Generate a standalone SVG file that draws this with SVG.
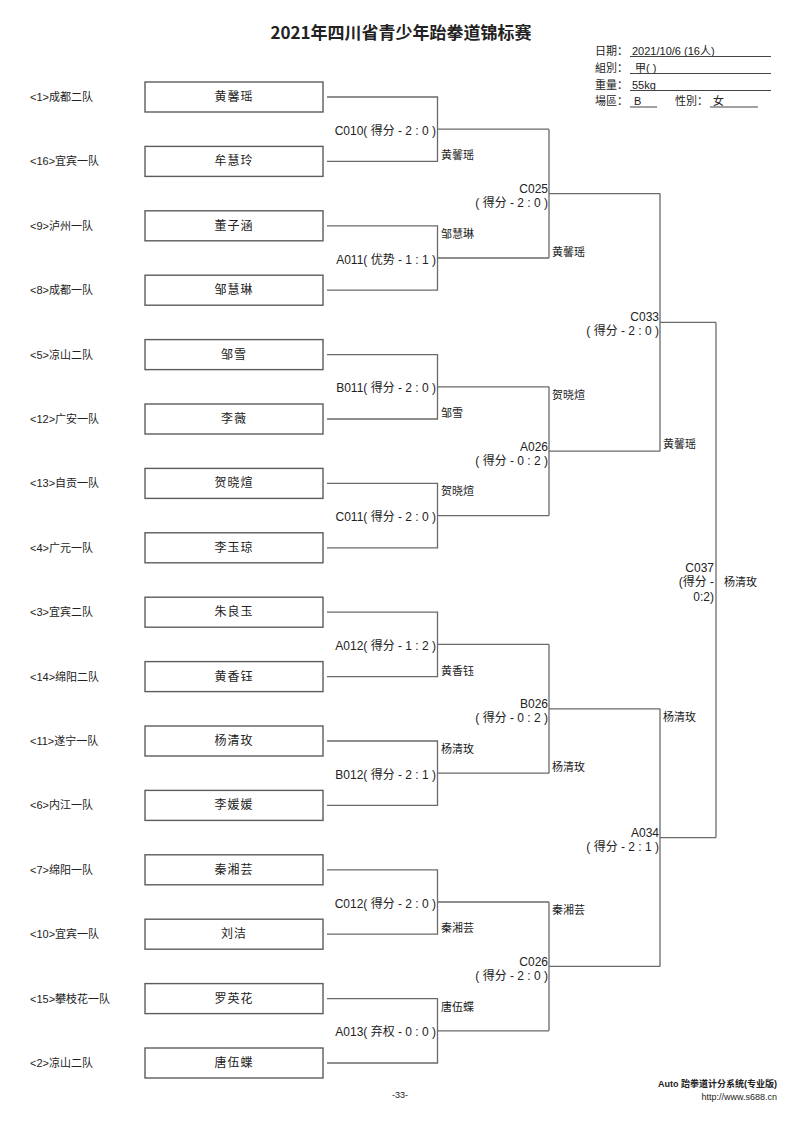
<svg xmlns="http://www.w3.org/2000/svg" width="800" height="1130" viewBox="0 0 800 1130">
<style>
.bg{fill:#fff}
.box{fill:#fff;stroke:#5c5c5c;stroke-width:1.4}
.ln{fill:none;stroke:#6a6a6a;stroke-width:1.3}
text{font-family:"Liberation Sans","Noto Sans CJK SC",sans-serif;fill:#222}
.title{font-size:17px;font-weight:bold;text-anchor:middle;font-family:"Noto Sans CJK SC","Liberation Sans",sans-serif}
.hd{font-size:11px}
.team{font-size:11px}
.name{font-size:12px;text-anchor:middle;letter-spacing:1px}
.code{font-size:12px;text-anchor:end}
.win{font-size:11px}
.ft{font-size:9px;text-anchor:end}
.ul{stroke:#444;stroke-width:1}
</style>
<rect class="bg" x="0" y="0" width="800" height="1130"/>

<g id="header">
<text class="title" x="401" y="39">2021年四川省青少年跆拳道锦标赛</text>
<text class="hd" x="595" y="55">日期：</text>
<text class="hd" x="632" y="55">2021/10/6 (16人)</text>
<line class="ul" x1="630" y1="56.5" x2="771" y2="56.5"/>
<text class="hd" x="595" y="72">組別：</text>
<text class="hd" x="635" y="72">甲( )</text>
<line class="ul" x1="630" y1="73.5" x2="771" y2="73.5"/>
<text class="hd" x="595" y="89">重量：</text>
<text class="hd" x="632" y="89">55kg</text>
<line class="ul" x1="630" y1="90.5" x2="771" y2="90.5"/>
<text class="hd" x="595" y="105">場區：</text>
<text class="hd" x="634" y="105">B</text>
<line class="ul" x1="630" y1="107" x2="657" y2="107"/>
<text class="hd" x="675" y="105">性別：</text>
<text class="hd" x="713" y="105">女</text>
<line class="ul" x1="710" y1="107" x2="758" y2="107"/>
</g>

<g id="connectors">
<path class="ln" d="M327 97H437.5V161.4H327M437.5 129.2H549"/>
<path class="ln" d="M327 225.8H437.5V290.2H327M437.5 258H549"/>
<path class="ln" d="M327 354.6H437.5V419H327M437.5 386.8H549"/>
<path class="ln" d="M327 483.4H437.5V547.8H327M437.5 515.6H549"/>
<path class="ln" d="M327 612.2H437.5V676.6H327M437.5 644.4H549"/>
<path class="ln" d="M327 741H437.5V805.4H327M437.5 773.2H549"/>
<path class="ln" d="M327 869.8H437.5V934.2H327M437.5 902H549"/>
<path class="ln" d="M327 998.6H437.5V1063H327M437.5 1030.8H549"/>
<path class="ln" d="M549 129.2V258M549 193.6H660"/>
<path class="ln" d="M549 386.8V515.6M549 451.2H660"/>
<path class="ln" d="M549 644.4V773.2M549 708.8H660"/>
<path class="ln" d="M549 902V1030.8M549 966.4H660"/>
<path class="ln" d="M660 193.6V451.2M660 322.4H716"/>
<path class="ln" d="M660 708.8V966.4M660 837.6H716"/>
<path class="ln" d="M716 322.4V837.6"/>
</g>

<g id="p1"><text class="team" x="30" y="101">&lt;1&gt;成都二队</text><rect class="box" x="145" y="82" width="178" height="30"/><text class="name" x="234" y="101">黄馨瑶</text></g>
<g id="p16"><text class="team" x="30" y="165.4">&lt;16&gt;宜宾一队</text><rect class="box" x="145" y="146.4" width="178" height="30"/><text class="name" x="234" y="165.4">牟慧玲</text></g>
<g id="p9"><text class="team" x="30" y="229.8">&lt;9&gt;泸州一队</text><rect class="box" x="145" y="210.8" width="178" height="30"/><text class="name" x="234" y="229.8">董子涵</text></g>
<g id="p8"><text class="team" x="30" y="294.2">&lt;8&gt;成都一队</text><rect class="box" x="145" y="275.2" width="178" height="30"/><text class="name" x="234" y="294.2">邹慧琳</text></g>
<g id="p5"><text class="team" x="30" y="358.6">&lt;5&gt;凉山二队</text><rect class="box" x="145" y="339.6" width="178" height="30"/><text class="name" x="234" y="358.6">邹雪</text></g>
<g id="p12"><text class="team" x="30" y="423">&lt;12&gt;广安一队</text><rect class="box" x="145" y="404" width="178" height="30"/><text class="name" x="234" y="423">李薇</text></g>
<g id="p13"><text class="team" x="30" y="487.4">&lt;13&gt;自贡一队</text><rect class="box" x="145" y="468.4" width="178" height="30"/><text class="name" x="234" y="487.4">贺晓煊</text></g>
<g id="p4"><text class="team" x="30" y="551.8">&lt;4&gt;广元一队</text><rect class="box" x="145" y="532.8" width="178" height="30"/><text class="name" x="234" y="551.8">李玉琼</text></g>
<g id="p3"><text class="team" x="30" y="616.2">&lt;3&gt;宜宾二队</text><rect class="box" x="145" y="597.2" width="178" height="30"/><text class="name" x="234" y="616.2">朱良玉</text></g>
<g id="p14"><text class="team" x="30" y="680.6">&lt;14&gt;绵阳二队</text><rect class="box" x="145" y="661.6" width="178" height="30"/><text class="name" x="234" y="680.6">黄香钰</text></g>
<g id="p11"><text class="team" x="30" y="745">&lt;11&gt;遂宁一队</text><rect class="box" x="145" y="726" width="178" height="30"/><text class="name" x="234" y="745">杨清玫</text></g>
<g id="p6"><text class="team" x="30" y="809.4">&lt;6&gt;内江一队</text><rect class="box" x="145" y="790.4" width="178" height="30"/><text class="name" x="234" y="809.4">李媛媛</text></g>
<g id="p7"><text class="team" x="30" y="873.8">&lt;7&gt;绵阳一队</text><rect class="box" x="145" y="854.8" width="178" height="30"/><text class="name" x="234" y="873.8">秦湘芸</text></g>
<g id="p10"><text class="team" x="30" y="938.2">&lt;10&gt;宜宾一队</text><rect class="box" x="145" y="919.2" width="178" height="30"/><text class="name" x="234" y="938.2">刘洁</text></g>
<g id="p15"><text class="team" x="30" y="1002.6">&lt;15&gt;攀枝花一队</text><rect class="box" x="145" y="983.6" width="178" height="30"/><text class="name" x="234" y="1002.6">罗英花</text></g>
<g id="p2"><text class="team" x="30" y="1067">&lt;2&gt;凉山二队</text><rect class="box" x="145" y="1048" width="178" height="30"/><text class="name" x="234" y="1067">唐伍蝶</text></g>

<g id="m-C010"><text class="code" x="436" y="134.7">C010( 得分 - 2 : 0 )</text><text class="win" x="441" y="159.4">黄馨瑶</text></g>
<g id="m-A011"><text class="code" x="436" y="263.5">A011( 优势 - 1 : 1 )</text><text class="win" x="441" y="237.8">邹慧琳</text></g>
<g id="m-B011"><text class="code" x="436" y="392.3">B011( 得分 - 2 : 0 )</text><text class="win" x="441" y="417">邹雪</text></g>
<g id="m-C011"><text class="code" x="436" y="521.1">C011( 得分 - 2 : 0 )</text><text class="win" x="441" y="495.4">贺晓煊</text></g>
<g id="m-A012"><text class="code" x="436" y="649.9">A012( 得分 - 1 : 2 )</text><text class="win" x="441" y="674.6">黄香钰</text></g>
<g id="m-B012"><text class="code" x="436" y="778.7">B012( 得分 - 2 : 1 )</text><text class="win" x="441" y="753">杨清玫</text></g>
<g id="m-C012"><text class="code" x="436" y="907.5">C012( 得分 - 2 : 0 )</text><text class="win" x="441" y="932.2">秦湘芸</text></g>
<g id="m-A013"><text class="code" x="436" y="1036.3">A013( 弃权 - 0 : 0 )</text><text class="win" x="441" y="1010.6">唐伍蝶</text></g>

<g id="m-C025"><text class="code" x="548" y="193.1">C025</text><text class="code" x="548" y="207.1">( 得分 - 2 : 0 )</text><text class="win" x="552" y="256">黄馨瑶</text></g>
<g id="m-A026"><text class="code" x="548" y="450.7">A026</text><text class="code" x="548" y="464.7">( 得分 - 0 : 2 )</text><text class="win" x="552" y="398.8">贺晓煊</text></g>
<g id="m-B026"><text class="code" x="548" y="708.3">B026</text><text class="code" x="548" y="722.3">( 得分 - 0 : 2 )</text><text class="win" x="552" y="771.2">杨清玫</text></g>
<g id="m-C026"><text class="code" x="548" y="965.9">C026</text><text class="code" x="548" y="979.9">( 得分 - 2 : 0 )</text><text class="win" x="552" y="914">秦湘芸</text></g>

<g id="m-C033"><text class="code" x="659" y="321.4">C033</text><text class="code" x="659" y="335.4">( 得分 - 2 : 0 )</text><text class="win" x="663" y="448.2">黄馨瑶</text></g>
<g id="m-A034"><text class="code" x="659" y="836.6">A034</text><text class="code" x="659" y="850.6">( 得分 - 2 : 1 )</text><text class="win" x="663" y="720.8">杨清玫</text></g>

<g id="m-C037"><text class="code" x="714" y="572">C037</text><text class="code" x="714" y="586">(得分 -</text><text class="code" x="714" y="601">0:2)</text><text class="win" x="724" y="586">杨清玫</text></g>

<g id="footer">
<text x="400" y="1098" style="font-size:9px;text-anchor:middle">-33-</text>
<text class="ft" x="777" y="1087" style="font-weight:bold">Auto 跆拳道计分系统(专业版)</text>
<text class="ft" x="777" y="1100">http://www.s688.cn</text>
</g>
</svg>
